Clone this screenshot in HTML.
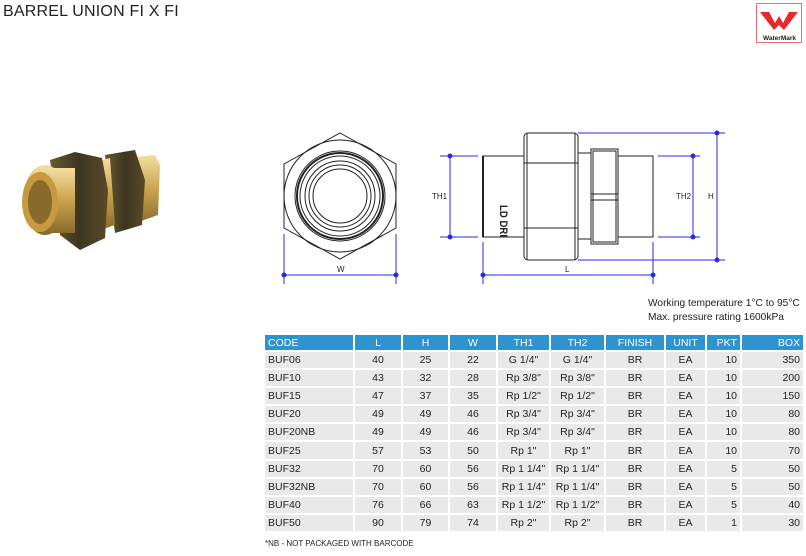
<!DOCTYPE html>
<html><head><meta charset="utf-8"><style>
body{margin:0;width:806px;height:556px;background:#fff;position:relative;overflow:hidden;font-family:"Liberation Sans",sans-serif;color:#222}
.t{position:absolute;white-space:nowrap}
table{position:absolute;left:265px;top:335px;border-collapse:collapse;font-size:10.5px;table-layout:fixed}
td{height:16.1px;padding:0 3px;border:1px solid #fff;border-width:0 2px 2px 0;background:#e9e9e9;text-align:center}
tr.h td{background:#2e93cf;color:#fff;height:15px}
td.l{text-align:left}td.r{text-align:right}
</style></head><body>
<div class="t" style="left:3px;top:3px;font-size:16px;color:#222;letter-spacing:0.2px">BARREL UNION FI X FI</div>
<div style="position:absolute;left:756px;top:3px;width:44px;height:38px;border:1.5px solid #f07070;background:#fff"></div>
<svg style="position:absolute;left:756px;top:3px" width="47" height="42">
<polygon points="4,9 13,9 19,20 23,13 27,20 33,9 42,9 28,27 23,22 18,27" fill="#e8282a"/>
<text x="23.5" y="37" font-size="6.5" font-weight="bold" text-anchor="middle" font-family="Liberation Sans" fill="#222">WaterMark</text>
</svg>
<!-- photo -->
<svg style="position:absolute;left:0;top:130px" width="180" height="130">
<defs><linearGradient id="br" x1="0" y1="0" x2="0" y2="1"><stop offset="0" stop-color="#f3dfa0"/><stop offset=".5" stop-color="#c9a24e"/><stop offset="1" stop-color="#8a6a2a"/></linearGradient>
<linearGradient id="dk" x1="0" y1="0" x2="1" y2="0"><stop offset="0" stop-color="#6b5a30"/><stop offset=".5" stop-color="#3d3520"/><stop offset="1" stop-color="#5a4a28"/></linearGradient></defs>
<polygon points="125,28 155,25 160,35 158,85 130,95" fill="url(#br)"/>
<polygon points="105,25 135,20 145,50 142,95 115,103" fill="url(#dk)"/>
<polygon points="95,32 110,28 115,95 100,100" fill="url(#br)"/>
<polygon points="50,30 75,22 102,28 108,60 105,108 80,120 60,105" fill="url(#dk)"/>
<ellipse cx="45" cy="70" rx="22" ry="35" fill="url(#br)"/>
<rect x="40" y="38" width="35" height="65" fill="url(#br)"/>
<ellipse cx="40" cy="72" rx="18" ry="30" fill="#c79a3f"/>
<ellipse cx="40" cy="72" rx="12" ry="22" fill="#8a6a2a"/>
</svg>
<!-- drawings -->
<svg style="position:absolute;left:0;top:0" width="806" height="300" fill="none" stroke="#222" stroke-width="1">
<polygon points="340,133 396,164 396,228 340,259 284,228 284,164"/>
<circle cx="340" cy="196" r="56"/>
<circle cx="340" cy="196" r="45"/>
<circle cx="340" cy="196" r="43" stroke-width="2"/>
<circle cx="340" cy="196" r="40"/>
<circle cx="340" cy="196" r="35"/>
<circle cx="340" cy="196" r="31"/>
<circle cx="340" cy="196" r="27"/>
<rect x="483" y="156" width="170" height="81"/>
<line x1="483" y1="156" x2="483" y2="237" stroke-width="2"/>
<rect x="524" y="133" width="54" height="127" rx="4" fill="#fff"/>
<line x1="524" y1="163" x2="578" y2="163"/><line x1="524" y1="228" x2="578" y2="228"/>
<line x1="527" y1="133" x2="527" y2="260"/><line x1="575" y1="133" x2="575" y2="260"/>
<rect x="578" y="153" width="13" height="86" fill="#fff"/>
<rect x="591" y="149" width="27" height="95" fill="#fff"/>
<rect x="593" y="151" width="23" height="91"/>
<line x1="591" y1="194" x2="618" y2="194"/><line x1="591" y1="200" x2="618" y2="200"/>
<text x="500" y="205" font-size="11" font-weight="bold" fill="#222" stroke="none" transform="rotate(90 500 205)" font-family="Liberation Sans" textLength="32" lengthAdjust="spacingAndGlyphs">LD DRI</text>
<g stroke="#2a2ae0" fill="#2a2ae0">
<line x1="284" y1="234" x2="284" y2="284"/><line x1="396" y1="234" x2="396" y2="284"/>
<line x1="284" y1="275" x2="396" y2="275"/><circle cx="284" cy="275" r="2"/><circle cx="396" cy="275" r="2"/>
<line x1="483" y1="242" x2="483" y2="284"/><line x1="653" y1="242" x2="653" y2="284"/>
<line x1="483" y1="275" x2="653" y2="275"/><circle cx="483" cy="275" r="2"/><circle cx="653" cy="275" r="2"/>
<line x1="440" y1="156" x2="478" y2="156"/><line x1="440" y1="237" x2="478" y2="237"/>
<line x1="450" y1="156" x2="450" y2="237"/><circle cx="450" cy="156" r="2"/><circle cx="450" cy="237" r="2"/>
<line x1="658" y1="156" x2="700" y2="156"/><line x1="658" y1="237" x2="700" y2="237"/>
<line x1="693" y1="156" x2="693" y2="237"/><circle cx="693" cy="156" r="2"/><circle cx="693" cy="237" r="2"/>
<line x1="578" y1="133" x2="725" y2="133"/><line x1="578" y1="260" x2="725" y2="260"/>
<line x1="717" y1="133" x2="717" y2="260"/><circle cx="717" cy="133" r="2"/><circle cx="717" cy="260" r="2"/>
</g>
<g fill="#222" stroke="none" font-size="8" font-family="Liberation Sans">
<text x="337" y="272">W</text><text x="565" y="272">L</text><text x="432" y="199">TH1</text><text x="676" y="199">TH2</text><text x="708" y="199">H</text>
</g>
</svg>
<div class="t" style="left:648px;top:297px;font-size:10.2px;line-height:14px">Working temperature 1°C to 95°C<br>Max. pressure rating 1600kPa</div>
<table>
<colgroup><col style="width:89px"><col style="width:48px"><col style="width:47px"><col style="width:48px"><col style="width:53px"><col style="width:55px"><col style="width:60px"><col style="width:41px"><col style="width:35px"><col style="width:63px"></colgroup>
<tr class="h"><td class="l">CODE</td><td>L</td><td>H</td><td>W</td><td>TH1</td><td>TH2</td><td>FINISH</td><td>UNIT</td><td class="r">PKT</td><td class="r">BOX</td></tr>
<tr><td class="l">BUF06</td><td>40</td><td>25</td><td>22</td><td>G 1/4"</td><td>G 1/4"</td><td>BR</td><td>EA</td><td class="r">10</td><td class="r">350</td></tr>
<tr><td class="l">BUF10</td><td>43</td><td>32</td><td>28</td><td>Rp 3/8"</td><td>Rp 3/8"</td><td>BR</td><td>EA</td><td class="r">10</td><td class="r">200</td></tr>
<tr><td class="l">BUF15</td><td>47</td><td>37</td><td>35</td><td>Rp 1/2"</td><td>Rp 1/2"</td><td>BR</td><td>EA</td><td class="r">10</td><td class="r">150</td></tr>
<tr><td class="l">BUF20</td><td>49</td><td>49</td><td>46</td><td>Rp 3/4"</td><td>Rp 3/4"</td><td>BR</td><td>EA</td><td class="r">10</td><td class="r">80</td></tr>
<tr><td class="l">BUF20NB</td><td>49</td><td>49</td><td>46</td><td>Rp 3/4"</td><td>Rp 3/4"</td><td>BR</td><td>EA</td><td class="r">10</td><td class="r">80</td></tr>
<tr><td class="l">BUF25</td><td>57</td><td>53</td><td>50</td><td>Rp 1"</td><td>Rp 1"</td><td>BR</td><td>EA</td><td class="r">10</td><td class="r">70</td></tr>
<tr><td class="l">BUF32</td><td>70</td><td>60</td><td>56</td><td>Rp 1 1/4"</td><td>Rp 1 1/4"</td><td>BR</td><td>EA</td><td class="r">5</td><td class="r">50</td></tr>
<tr><td class="l">BUF32NB</td><td>70</td><td>60</td><td>56</td><td>Rp 1 1/4"</td><td>Rp 1 1/4"</td><td>BR</td><td>EA</td><td class="r">5</td><td class="r">50</td></tr>
<tr><td class="l">BUF40</td><td>76</td><td>66</td><td>63</td><td>Rp 1 1/2"</td><td>Rp 1 1/2"</td><td>BR</td><td>EA</td><td class="r">5</td><td class="r">40</td></tr>
<tr><td class="l">BUF50</td><td>90</td><td>79</td><td>74</td><td>Rp 2"</td><td>Rp 2"</td><td>BR</td><td>EA</td><td class="r">1</td><td class="r">30</td></tr>
</table>
<div class="t" style="left:265px;top:539px;font-size:8px">*NB - NOT PACKAGED WITH BARCODE</div>
</body></html>
